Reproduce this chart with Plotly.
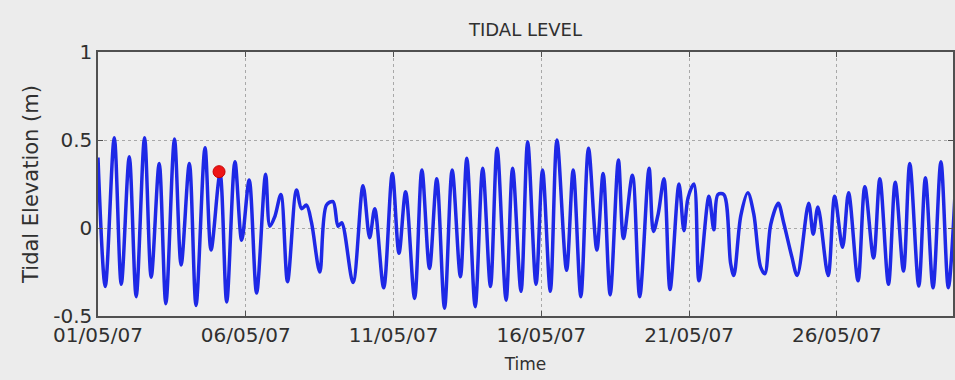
import pandas as pd
import plotly.graph_objects as go

# ---- data ----
start_time = "2007-05-01 00:00"
# hours since start of each turning point of the tide curve
hours = [0, 5.9, 13.2, 18.9, 25.4, 31.0, 37.8, 43.2, 49.7, 55.1, 62.1, 67.5, 74.2, 79.6,
         86.9, 91.8, 99.1, 104.5, 111.2, 116.7, 122.8, 128.8, 136.1, 139.6, 143.6, 148.5,
         153.9, 161.2, 165.3, 169.3, 173.4, 180.1, 185.5, 190.9, 194.9, 197.9, 207.1, 215.2,
         220.6, 224.7, 232.0, 239.0, 244.4, 249.8, 257.1, 263.0, 269.2, 275.1, 281.4, 287.6,
         294.3, 299.5, 306.3, 312.4, 318.7, 324.1, 331.4, 336.7, 343.5, 348.9, 355.7, 361.0,
         367.3, 372.7, 380.5, 385.9, 392.1, 398.3, 405.1, 410.2, 415.9, 422.6, 426.7, 434.0,
         439.9, 447.5, 451.0, 455.0, 459.6, 464.5, 471.8, 475.8, 479.1, 483.9, 488.0, 496.1,
         500.1, 503.4, 508.2, 513.7, 516.3, 522.0, 527.7, 532.5, 538.0, 541.5, 546.3, 552.4,
         556.8, 563.3, 567.8, 577.1, 580.8, 584.6, 592.9, 598.2, 604.6, 609.5, 617.2, 622.7,
         629.8, 634.9, 641.9, 647.4, 654.1, 659.2, 666.5, 671.9, 678.1, 684.5, 690.5, 697.0]
elevation = [0.40, -0.333, 0.513, -0.32, 0.405, -0.39, 0.513, -0.28, 0.367, -0.43, 0.506, -0.21,
             0.367, -0.44, 0.456, -0.125, 0.31, -0.42, 0.377, -0.07, 0.273, -0.37, 0.305, 0.01,
             0.065, 0.19, -0.305, 0.216, 0.11, 0.13, 0.03, -0.25, 0.13, 0.15, 0.01, 0.03,
             -0.31, 0.24, -0.055, 0.11, -0.34, 0.31, -0.144, 0.206, -0.40, 0.33, -0.23, 0.28,
             -0.456, 0.33, -0.277, 0.396, -0.447, 0.34, -0.333, 0.453, -0.41, 0.34, -0.36, 0.49,
             -0.32, 0.33, -0.36, 0.50, -0.24, 0.33, -0.39, 0.453, -0.125, 0.31, -0.38, 0.386,
             -0.06, 0.30, -0.39, 0.34, -0.02, 0.083, 0.28, -0.35, 0.25, -0.015, 0.17, 0.25,
             -0.30, 0.18, -0.01, 0.19, 0.19, -0.20, -0.27, 0.07, 0.20, 0.08, -0.22, -0.26,
             0.02, 0.14, 0.03, -0.16, -0.27, 0.14, -0.035, 0.12, -0.27, 0.18, -0.11, 0.20,
             -0.30, 0.235, -0.17, 0.28, -0.32, 0.26, -0.245, 0.367, -0.33, 0.285, -0.34, 0.377,
             -0.34, 0.35]
assert len(hours) == len(elevation)

marker_hours = [98.3]
marker_elevation = [0.32]

tick_dates = ["2007-05-01", "2007-05-06", "2007-05-11", "2007-05-16", "2007-05-21", "2007-05-26"]
tick_labels = ["01/05/07", "06/05/07", "11/05/07", "16/05/07", "21/05/07", "26/05/07"]
y_ticks = [-0.5, 0, 0.5, 1]
y_tick_labels = ["-0.5", "0", "0.5", "1"]

t0 = pd.Timestamp(start_time)
times = [t0 + pd.Timedelta(hours=h) for h in hours]
marker_times = [t0 + pd.Timedelta(hours=h) for h in marker_hours]

fig = go.Figure()
fig.add_trace(go.Scatter(x=times, y=elevation, mode="lines",
                         line=dict(color="#1e28e6", width=3.5, shape="spline", smoothing=0.9),
                         hoverinfo="skip"))
fig.add_trace(go.Scatter(x=marker_times, y=marker_elevation, mode="markers",
                         marker=dict(color="#ee1515", size=12, line=dict(color="#c80000", width=1))))

font_main = "DejaVu Sans"
axis_common = dict(showline=True, linecolor="#505050", linewidth=1.5, mirror="ticks",
                   ticks="inside", ticklen=5, tickcolor="#505050", tickwidth=1,
                   showgrid=True, gridcolor="#a8a8a8", griddash="dot", gridwidth=1,
                   zeroline=False,
                   tickfont=dict(family=font_main, size=20, color="#303030"))

fig.update_xaxes(type="date", range=[t0, t0 + pd.Timedelta(hours=694.3)],
                 tickvals=[pd.Timestamp(d) for d in tick_dates], ticktext=tick_labels,
                 title=dict(text="Time", font=dict(family=font_main, size=17, color="#303030"),
                            standoff=12),
                 **axis_common)
fig.update_yaxes(range=[-0.5, 1], tickvals=y_ticks, ticktext=y_tick_labels,
                 title=dict(text="Tidal Elevation (m)",
                            font=dict(family=font_main, size=21, color="#303030"), standoff=9),
                 **axis_common)

fig.update_layout(width=955, height=380, margin=dict(l=98, r=0, t=52, b=64),
                  paper_bgcolor="#ececec", plot_bgcolor="#eeeeee", showlegend=False,
                  title=dict(text="TIDAL LEVEL", x=0.5, xref="paper", xanchor="center",
                             y=1 - 30 / 380, yref="container", yanchor="middle",
                             font=dict(family=font_main, size=18, color="#303030")))

fig.write_html("out.html")
